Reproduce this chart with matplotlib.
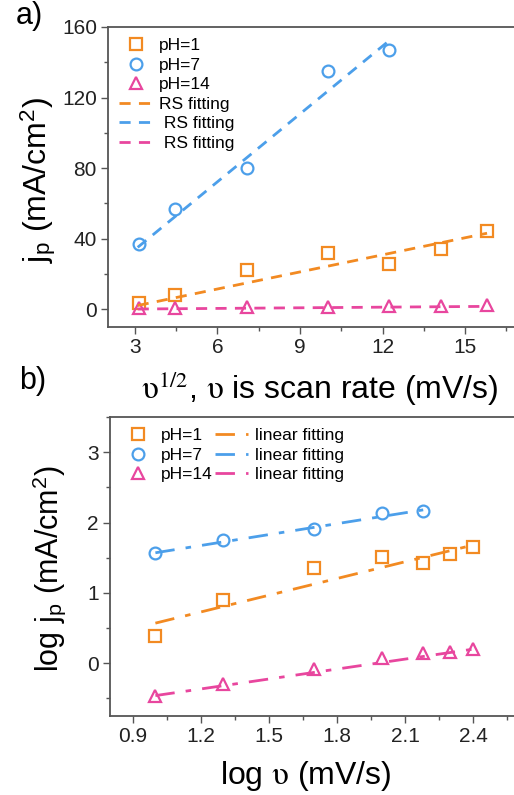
import numpy as np
import matplotlib
matplotlib.use('Agg')
import matplotlib.pyplot as plt
from matplotlib.ticker import MultipleLocator

plt.rcParams['font.family'] = ['Liberation Sans', 'DejaVu Sans']
plt.rcParams['mathtext.fontset'] = 'stix'

# ---- data: panel a (j_p vs sqrt of scan rate) ----
sqrt_rate = [3.16, 4.47, 7.07, 10.0, 12.25, 14.14, 15.81]
jp_ph1 = [3.4, 7.7, 22.0, 32.0, 25.3, 34.2, 44.4]
jp_ph7 = [36.9, 56.5, 80.2, 135.2, 146.9]
jp_ph14 = [0.5, 0.6, 1.0, 1.2, 1.5, 1.7, 2.0]

# RS fitting lines (end points)
fit_a_x = {'pH=1': [3.1, 15.8], 'pH=7': [3.1, 12.3], 'pH=14': [3.1, 15.8]}
fit_a_y = {'pH=1': [2.0, 43.0], 'pH=7': [35.0, 153.0], 'pH=14': [0.0, 1.5]}

# ---- data: panel b (log j_p vs log scan rate) ----
log_rate = [1.0, 1.3, 1.7, 2.0, 2.18, 2.3, 2.4]
logjp_ph1 = [0.39, 0.90, 1.35, 1.51, 1.42, 1.55, 1.65]
logjp_ph7 = [1.57, 1.75, 1.91, 2.13, 2.17]
logjp_ph14 = [-0.47, -0.29, -0.08, 0.07, 0.14, 0.16, 0.20]

fit_b_x = {'pH=1': [1.0, 2.4], 'pH=7': [1.0, 2.18], 'pH=14': [1.0, 2.4]}
fit_b_y = {'pH=1': [0.57, 1.68], 'pH=7': [1.57, 2.18], 'pH=14': [-0.46, 0.20]}

orange = '#F28A22'
blue = '#4C9FEA'
pink = '#E8469E'
spine_col = '#555555'

W, H = 514, 795
fig = plt.figure(figsize=(W / 100, H / 100), dpi=100)


def px_axes(left, top, right, bottom):
    return fig.add_axes([left / W, 1 - bottom / H, (right - left) / W, (bottom - top) / H])


def style_axes(ax):
    for s in ['top', 'left', 'bottom']:
        ax.spines[s].set_color(spine_col)
        ax.spines[s].set_linewidth(1.3)
    ax.spines['right'].set_visible(False)
    ax.tick_params(which='major', direction='out', length=5, width=1, colors=spine_col,
                   labelsize=15, labelcolor='#222222', pad=3)
    ax.tick_params(which='minor', direction='out', length=3, width=1, colors=spine_col)
    ax.tick_params(top=False, right=False, which='both')


mk = dict(linestyle='none', markerfacecolor='none', markersize=8.5, markeredgewidth=1.6)

# ---- panel a ----
ax1 = px_axes(108, 27, 514, 327)
ax1.plot(sqrt_rate, jp_ph1, marker='s', color=orange, label='pH=1', **mk)
ax1.plot(sqrt_rate[:5], jp_ph7, marker='o', color=blue, label='pH=7', **mk)
ax1.plot(sqrt_rate, jp_ph14, marker='^', color=pink, label='pH=14', **mk)
for name, col, lab in [('pH=1', orange, 'RS fitting'), ('pH=7', blue, ' RS fitting'),
                       ('pH=14', pink, ' RS fitting')]:
    ax1.plot(fit_a_x[name], fit_a_y[name], color=col, lw=2, dashes=(4, 3), label=lab)
ax1.set_xlim(2.02, 16.78)
ax1.set_ylim(-10.2, 160)
ax1.xaxis.set_major_locator(MultipleLocator(3))
ax1.xaxis.set_minor_locator(MultipleLocator(1.5))
ax1.yaxis.set_major_locator(MultipleLocator(40))
ax1.yaxis.set_minor_locator(MultipleLocator(20))
style_axes(ax1)
ax1.legend(loc='upper left', frameon=False, fontsize=12.5, handlelength=1.9,
           handletextpad=0.4, labelspacing=0.25, borderaxespad=0.25)

# ---- panel b ----
ax2 = px_axes(110, 417, 514, 716)
ax2.plot(log_rate, logjp_ph1, marker='s', color=orange, label='pH=1', **mk)
ax2.plot(log_rate[:5], logjp_ph7, marker='o', color=blue, label='pH=7', **mk)
ax2.plot(log_rate, logjp_ph14, marker='^', color=pink, label='pH=14', **mk)
for name, col, lab in [('pH=1', orange, 'linear fitting'), ('pH=7', blue, 'linear fitting'),
                       ('pH=14', pink, 'linear fitting')]:
    ax2.plot(fit_b_x[name], fit_b_y[name], color=col, lw=2, dashes=(7, 4, 2, 4), label=lab)
ax2.set_xlim(0.8, 2.58)
ax2.set_ylim(-0.75, 3.5)
ax2.xaxis.set_major_locator(MultipleLocator(0.3))
ax2.xaxis.set_minor_locator(MultipleLocator(0.15))
ax2.yaxis.set_major_locator(MultipleLocator(1))
ax2.yaxis.set_minor_locator(MultipleLocator(0.5))
style_axes(ax2)
ax2.legend(loc='upper left', frameon=False, fontsize=12.5, ncol=2, handlelength=1.9,
           handletextpad=0.4, labelspacing=0.25, columnspacing=0.1, borderaxespad=0.25)

# ---- labels ----
ups = r'$\mathrm{\upsilon}$'
fig.text(29 / W, 1 - 16 / H, 'a)', fontsize=22, ha='center', va='center')
fig.text(33 / W, 1 - 381 / H, 'b)', fontsize=22, ha='center', va='center')
fig.text(38 / W, 1 - 180 / H, r'j$_\mathregular{p}$ (mA/cm$^\mathregular{2}$)', fontsize=23,
         rotation=90, ha='center', va='center')
fig.text(320 / W, 1 - 389 / H, r'$\mathrm{\upsilon}^{1/2}$, ' + ups + ' is scan rate (mV/s)',
         fontsize=23, ha='center', va='center')
fig.text(49 / W, 1 - 568 / H, r'log j$_\mathregular{p}$ (mA/cm$^\mathregular{2}$)', fontsize=22,
         rotation=90, ha='center', va='center')
fig.text(306 / W, 1 - 776 / H, 'log ' + ups + ' (mV/s)', fontsize=23, ha='center', va='center')

plt.savefig('out.png', dpi=100)
